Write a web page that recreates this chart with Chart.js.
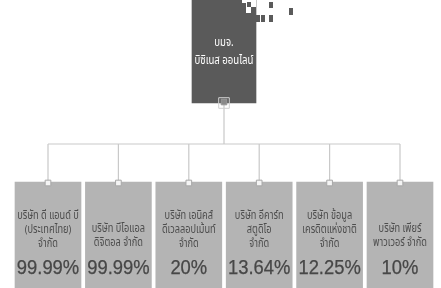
<!DOCTYPE html>
<html>
<head>
<meta charset="utf-8">
<script src="https://cdn.jsdelivr.net/npm/chart.js@4"></script>
<style>
html,body{margin:0;padding:0;background:#fff;}
#wrap{width:441px;height:288px;position:relative;}
</style>
</head>
<body>
<div id="wrap"><canvas id="c"></canvas></div>
<script>
// ---- data ----
const parentName = ['บมจ.', 'บิซิเนส ออนไลน์'];
const companies = [
  ['บริษัท ดี แอนด์ บี', '(ประเทศไทย)', 'จำกัด'],
  ['บริษัท บีโอแอล', 'ดิจิตอล จำกัด'],
  ['บริษัท เอนิคส์', 'ดีเวลลอปเม้นท์', 'จำกัด'],
  ['บริษัท อีคาร์ท', 'สตูดิโอ', 'จำกัด'],
  ['บริษัท ข้อมูล', 'เครดิตแห่งชาติ', 'จำกัด'],
  ['บริษัท เพียร์', 'พาวเวอร์ จำกัด']
];
const stakes = [99.99, 99.99, 20, 13.64, 12.25, 10];

// ---- layout (diagram units on y, slot index on x) ----
const L = { parentTop: 0, parentBottom: 103, busY: 144, childTop: 182, childBottom: 288,
            lines3: [217, 231, 245], lines2: [230, 244], pctY: 268, parentLines: [44, 62] };
const idx = companies.map((_, i) => i);
const parentX = (idx.length - 1) / 2;

// pixelated corner of the parent box: white cut-outs and dark blocks [dx from box right edge, top, width, height]
const cutouts = [[-10, 0, 10, 13], [-14, 0, 4, 3]];
const blocks = [[-9, 2, 4, 5], [-5, 7, 5, 6], [0, 15, 4, 7], [5, 15, 4, 7], [13, 2, 4, 6], [13, 15, 4, 7], [33, 8, 4, 7]];

const C = { parent: '#5a5a5a', child: '#b4b4b4', line: '#c9c9c9', text: '#4d4d4d', pct: '#474747' };

const segs = [];
segs.push([{x: parentX, y: L.parentBottom}, {x: parentX, y: L.busY}]);
segs.push([{x: idx[0], y: L.busY}, {x: idx[idx.length - 1], y: L.busY}]);
idx.forEach(i => segs.push([{x: i, y: L.busY}, {x: i, y: L.childTop}]));

const datasets = [];
segs.forEach(s => datasets.push({ type: 'line', data: s, borderColor: C.line, borderWidth: 1.2, pointRadius: 0, order: 5 }));
datasets.push({ type: 'bar', label: 'parent', data: [{x: parentX, y: [L.parentTop, L.parentBottom]}],
  backgroundColor: C.parent, barThickness: 64, grouped: false, order: 3 });
datasets.push({ type: 'bar', label: 'children', data: idx.map(i => ({x: i, y: [L.childTop, L.childBottom]})),
  backgroundColor: C.child, barThickness: 66, grouped: false, order: 3 });
// connector squares
datasets.push({ type: 'line', showLine: false, data: idx.map(i => ({x: i, y: L.childTop + 1})),
  pointStyle: 'rect', pointRadius: 4, backgroundColor: '#f4f4f4', borderColor: '#a8a8a8', borderWidth: 1, order: 1 });
datasets.push({ type: 'line', showLine: false, data: [{x: parentX, y: L.parentBottom}],
  pointStyle: 'rect', pointRadius: 7.5, backgroundColor: 'rgba(0,0,0,0)', borderColor: '#d0d0d0', borderWidth: 1, order: 1 });
datasets.push({ type: 'line', showLine: false, data: [{x: parentX, y: L.parentBottom - 1}],
  pointStyle: 'rect', pointRadius: 4, backgroundColor: '#8a8a8a', borderColor: '#9a9a9a', borderWidth: 1, order: 0 });

function drawNarrow(ctx, t, x, y, sx, stroke) {
  ctx.save();
  ctx.translate(x, y);
  ctx.scale(sx, 1);
  ctx.fillText(t, 0, 0);
  if (stroke) { ctx.lineWidth = stroke; ctx.strokeStyle = ctx.fillStyle; ctx.strokeText(t, 0, 0); }
  ctx.restore();
}

const labelPlugin = {
  id: 'orgLabels',
  afterDatasetsDraw(chart) {
    const ctx = chart.ctx, ys = chart.scales.y;
    const pMeta = chart.getDatasetMeta(chart.data.datasets.findIndex(d => d.label === 'parent'));
    const cMeta = chart.getDatasetMeta(chart.data.datasets.findIndex(d => d.label === 'children'));
    ctx.save();
    ctx.textAlign = 'center';
    ctx.textBaseline = 'middle';
    const pel = pMeta.data[0];
    const right = pel.x + pel.width / 2;
    const top = ys.getPixelForValue(L.parentTop);
    ctx.fillStyle = '#ffffff';
    cutouts.forEach(d => ctx.fillRect(right + d[0], top + d[1], d[2], d[3]));
    ctx.fillStyle = C.parent;
    blocks.forEach(d => ctx.fillRect(right + d[0], top + d[1], d[2], d[3]));
    ctx.fillStyle = '#ffffff';
    ctx.font = '12px "Noto Sans Thai", "Noto Sans", sans-serif';
    parentName.forEach((t, k) => drawNarrow(ctx, t, pel.x, ys.getPixelForValue(L.parentLines[k]), 0.8));
    cMeta.data.forEach((el, i) => {
      const lines = companies[i];
      const pos = lines.length === 3 ? L.lines3 : L.lines2;
      ctx.fillStyle = C.text;
      ctx.font = '11.5px "Noto Sans Thai", "Noto Sans", sans-serif';
      lines.forEach((t, k) => drawNarrow(ctx, t, el.x, ys.getPixelForValue(pos[k]), 0.8));
      ctx.fillStyle = C.pct;
      ctx.font = '20px "Liberation Sans Narrow", "Liberation Sans", sans-serif';
      drawNarrow(ctx, stakes[i] + '%', el.x, ys.getPixelForValue(L.pctY), 0.92, 0.25);
    });
    ctx.restore();
  }
};

const slot = 70.4, left0 = 12.8;
new Chart(document.getElementById('c'), {
  type: 'bar',
  data: { datasets },
  options: {
    responsive: true, maintainAspectRatio: false, animation: false,
    layout: { padding: 0, autoPadding: false },
    plugins: { legend: { display: false }, tooltip: { enabled: false } },
    scales: {
      x: { type: 'linear', display: false, offset: false, min: -0.5 - left0 / slot, max: -0.5 + (441 - left0) / slot },
      y: { type: 'linear', display: false, reverse: true, min: 0, max: 288 }
    }
  },
  plugins: [labelPlugin]
});
</script>
</body>
</html>
